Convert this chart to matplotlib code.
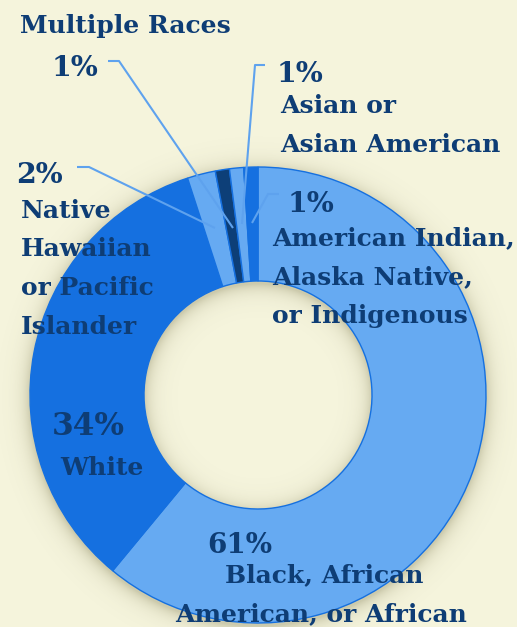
import numpy as np
import matplotlib
matplotlib.use("Agg")
import matplotlib.pyplot as plt

# ---- data ----
categories = ["Black, African\nAmerican, or African", "White",
              "Native\nHawaiian\nor Pacific\nIslander", "Multiple Races",
              "Asian or\nAsian American",
              "American Indian,\nAlaska Native,\nor Indigenous"]
values = [61, 34, 2, 1, 1, 1]
pct_labels = ["61%", "34%", "2%", "1%", "1%", "1%"]

BG = "#F5F4DC"
LIGHT = "#66AAF2"
BRIGHT = "#1570E0"
NAVY = "#0D3F78"
TEXT = "#0E3D75"
LINE = "#5EA2EE"
slice_colors = [LIGHT, BRIGHT, LIGHT, NAVY, LIGHT, BRIGHT]

W, H = 517, 627
fig = plt.figure(figsize=(W / 100, H / 100), dpi=100, facecolor=BG)
ax = fig.add_axes([0, 0, 1, 1])
ax.set_xlim(0, W)
ax.set_ylim(0, H)
ax.set_aspect("equal")
ax.axis("off")
ax.set_facecolor(BG)

def Y(y):  # image row -> data y
    return H - y

cx, cy = 258, Y(395)
R_out, R_in = 228, 114

# soft shadow around the ring
yy, xx = np.mgrid[0:H, 0:W]
r = np.hypot(xx + 0.5 - cx, (H - yy - 0.5) - (cy - 3))
d = np.where(r > R_out, r - R_out, np.where(r < R_in, R_in - r, 0))
alpha = 0.26 * np.exp(-d / 8.0)
shadow = np.zeros((H, W, 4))
shadow[..., 0] = 0.35
shadow[..., 1] = 0.33
shadow[..., 2] = 0.15
shadow[..., 3] = alpha
ax.imshow(shadow, extent=[0, W, 0, H], origin="upper", zorder=0,
          interpolation="bilinear")

ax.pie(values, colors=slice_colors, startangle=90, counterclock=False,
       center=(cx, cy), radius=R_out, frame=True,
       wedgeprops=dict(width=R_out - R_in, edgecolor=BRIGHT, linewidth=1.0))
ax.set_xlim(0, W)
ax.set_ylim(0, H)
ax.axis("off")

FONT = "DejaVu Serif"
fs_lab = 18
fs_pct = 20.5

def txt(x, y, s, size=fs_lab):
    ax.text(x, Y(y), s, fontsize=size, fontfamily=FONT, fontweight="bold",
            color=TEXT, ha="left", va="baseline", zorder=5)

def lines(x0, y0, step, lines_):
    for i, s in enumerate(lines_):
        txt(x0, y0 + i * step, s)

# leader lines (image coords)
leaders = [
    [(108, 61), (119, 61), (233, 228)],     # Multiple Races
    [(77, 167), (89, 167), (215, 228)],     # Native Hawaiian
    [(265, 65), (255, 65), (242, 224)],     # Asian
    [(279, 194), (268, 194), (252, 223)],   # American Indian
]
for pts in leaders:
    ax.plot([p[0] for p in pts], [Y(p[1]) for p in pts], color=LINE,
            lw=1.5, zorder=4, solid_capstyle="butt")

# labels
txt(20, 33, categories[3])
txt(52, 76, pct_labels[3], fs_pct)

txt(277, 82, pct_labels[4], fs_pct)
lines(280, 113, 39, categories[4].split("\n"))

txt(288, 212, pct_labels[5], fs_pct)
lines(272, 245, 39, categories[5].split("\n"))

txt(16, 183, pct_labels[2], fs_pct)
lines(21, 218, 38.5, categories[2].split("\n"))

txt(52, 435, pct_labels[1], 22.5)
txt(60, 475, categories[1])

txt(207, 553, pct_labels[0], 20)
b = categories[0].split("\n")
txt(225, 582, b[0])
txt(175, 621, b[1])

fig.savefig("out.png", dpi=100, facecolor=BG)
